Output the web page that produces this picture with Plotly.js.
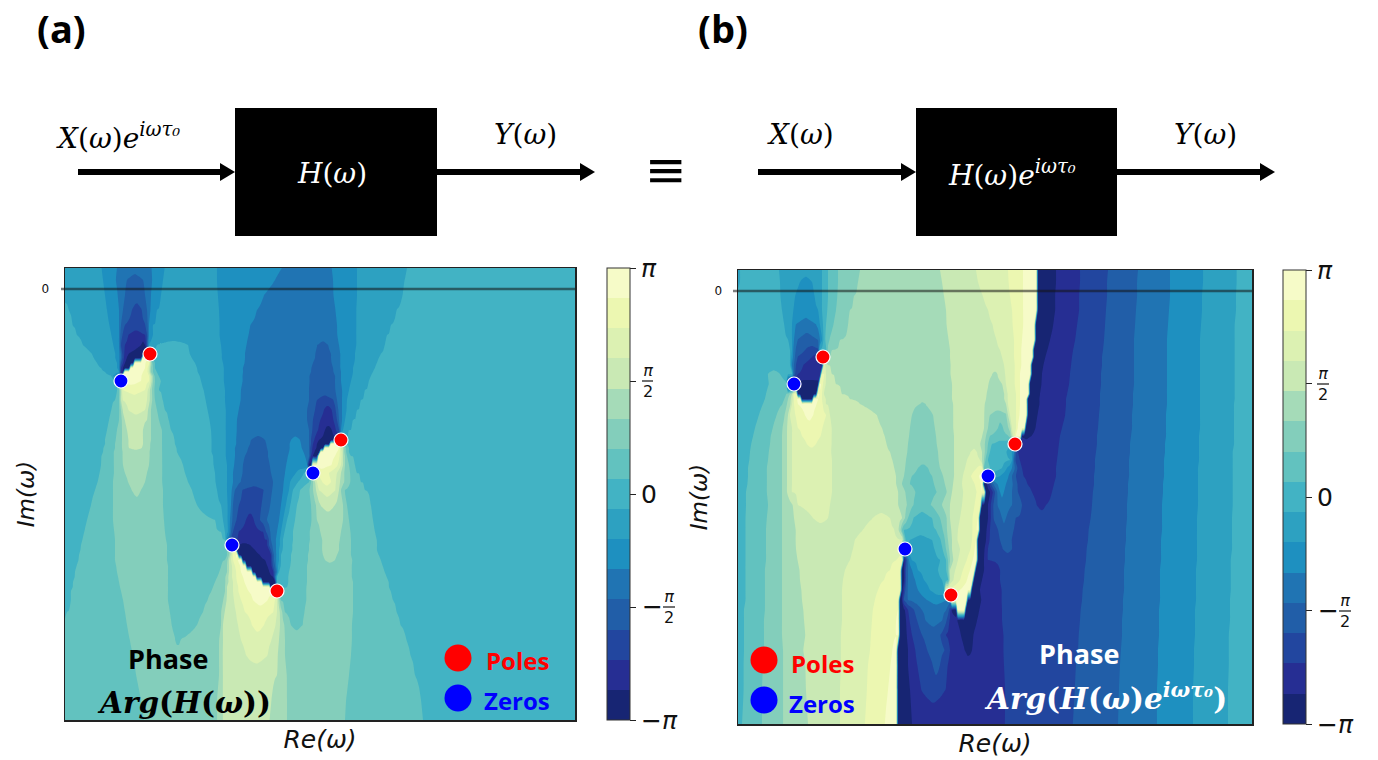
<!DOCTYPE html>
<html><head><meta charset="utf-8">
<script src="https://cdn.plot.ly/plotly-3.0.1.min.js"></script>
<style>html,body{margin:0;padding:0;background:#fff}#c{width:1378px;height:760px}</style>
</head><body><div id="c"></div>
<script>
// Band index of the phase (-7 = -pi band ... 7 = +pi band).
// Each row: band, x where the next band starts, next band, ...
const rowYA=[268,280,295,310,325,335,345,354,358,363,368,372,376,381,390,400,410,420,430,440,444,448,452,456,465,473,482,490,505,520,532,540,545,550,555,560,566,572,577,582,587,591,600,612,625,640,655,675,700,720];
const bandsA=[
[-1,102,-2,117,-3,152,-2,164,-1,217,-2,282,-3,332,-2,357,-1,407,0],
[-1,103,-2,116,-3,127,-4,143,-3,152,-2,163,-1,217,-2,275,-3,333,-2,357,-1,404,0],
[-1,105,-2,118,-3,125,-4,145,-3,151,-2,161,-1,218,-2,264,-3,334,-2,357,-1,402,0],
[0,68,-1,107,-2,119,-3,123,-4,132,-5,142,-4,147,-3,150,-2,157,-1,219,-2,257,-3,336,-2,356,-1,396,0],
[0,72,-1,110,-2,119,-3,121,-4,125,-5,146,-4,148,-3,149,-2,153,-1,220,-2,250,-3,337,-2,356,-1,391,0],
[0,77,-1,112,-2,119,-3,120,-4,122,-5,128,-6,145,-5,147,-4,149,-2,152,-1,220,-2,248,-3,338,-2,356,-1,387,0],
[0,83,-1,114,-2,119,-3,120,-4,121,-5,125,-6,141,-7,145,-6,147,-4,149,-1,157,0,188,-1,221,-2,246,-3,318,-4,328,-3,339,-2,356,-1,384,0],
[0,92,-1,116,-2,120,-3,121,-4,122,-5,124,-6,128,-7,149,0,190,-1,222,-2,245,-3,316,-4,331,-3,340,-2,355,-1,380,0],
[0,94,-1,116,-2,120,-3,121,-4,122,-5,124,-6,126,-7,142,7,148,6,150,1,152,0,192,-1,222,-2,245,-3,315,-4,331,-3,340,-2,355,-1,378,0],
[0,97,-1,117,-2,120,-4,121,-5,123,-6,125,-7,135,7,146,6,150,3,152,1,154,0,195,-1,223,-2,244,-3,313,-4,332,-3,340,-2,354,-1,376,0],
[0,101,-1,118,-2,120,-4,121,-6,123,-7,130,7,145,6,149,4,151,2,153,1,155,0,197,-1,224,-2,243,-3,312,-4,333,-3,340,-2,353,-1,374,0],
[0,105,-1,119,-2,120,-4,121,-6,123,-7,125,7,143,6,149,4,151,2,153,1,156,0,198,-1,224,-2,243,-3,311,-4,334,-3,341,-2,353,-1,372,0],
[0,113,-2,120,-7,122,7,142,6,149,5,150,4,152,3,153,2,154,1,158,0,200,-1,224,-2,242,-3,310,-4,335,-3,341,-2,352,-1,370,0],
[0,118,7,141,6,149,5,150,4,152,3,153,2,155,1,160,0,201,-1,224,-2,242,-3,310,-4,335,-3,341,-2,351,-1,368,0],
[0,118,1,119,2,120,3,121,4,122,5,123,6,145,5,148,4,150,3,152,2,154,1,159,0,204,-1,225,-2,241,-3,309,-4,336,-3,342,-2,349,-1,365,0],
[0,115,1,119,2,120,3,121,4,122,5,147,4,150,3,152,2,155,1,162,0,206,-1,225,-2,240,-3,309,-4,317,-5,334,-4,337,-3,342,-2,347,-1,360,0],
[0,112,1,120,2,121,3,122,4,128,5,145,4,148,3,151,2,157,1,165,0,208,-1,226,-2,238,-3,308,-4,315,-5,324,-6,332,-5,336,-4,338,-3,342,-2,346,-1,357,0],
[0,109,1,119,2,122,3,124,4,147,3,151,2,159,1,168,0,210,-1,226,-2,237,-3,308,-4,313,-5,320,-6,334,-5,337,-4,339,-3,342,-2,345,-1,353,0],
[0,107,1,117,2,122,3,127,4,143,3,151,2,162,1,171,0,211,-1,226,-2,236,-3,309,-4,312,-5,318,-6,325,-7,332,-6,336,-5,339,-4,340,-3,341,-2,343,-1,349,0],
[0,105,1,116,2,122,3,128,4,143,3,151,2,162,1,174,0,212,-1,226,-2,236,-3,251,-4,265,-3,291,-2,300,-3,309,-4,311,-5,314,-6,319,-7,340,0],
[0,105,1,115,2,122,3,128,4,143,3,150,2,162,1,175,0,212,-1,226,-2,236,-3,250,-4,266,-3,290,-2,301,-3,309,-4,311,-5,313,-6,317,-7,331,7,339,4,342,3,344,1,346,0],
[0,104,1,115,2,122,3,129,4,142,3,150,2,162,1,176,0,212,-1,226,-2,235,-3,248,-4,267,-3,290,-2,302,-3,309,-4,310,-5,312,-6,316,-7,325,7,339,6,341,4,343,3,344,2,346,1,348,0],
[0,103,1,114,2,122,3,150,2,162,1,177,0,212,-1,226,-2,235,-3,247,-4,268,-3,289,-2,304,-3,309,-4,310,-5,312,-6,314,-7,321,7,337,6,340,5,342,4,343,3,344,2,346,1,349,0],
[0,102,1,114,2,122,3,150,2,162,1,179,0,213,-1,226,-2,235,-3,245,-4,268,-3,288,-2,305,-3,310,-5,311,-6,313,-7,318,7,335,6,340,5,342,4,343,3,345,2,347,1,351,0],
[0,101,1,114,2,123,3,149,2,162,1,183,0,214,-1,227,-2,234,-3,243,-4,270,-3,286,-2,309,-7,313,7,332,6,338,5,341,4,343,3,345,2,349,1,354,0],
[0,100,1,114,2,125,3,147,2,162,1,185,0,215,-1,227,-2,233,-3,242,-4,271,-3,285,-2,296,-1,304,0,313,6,329,5,337,4,341,3,344,2,350,1,357,0],
[0,98,1,113,2,128,3,145,2,162,1,188,0,216,-1,227,-2,233,-3,240,-4,273,-3,284,-2,290,-1,298,0,309,1,311,2,313,3,315,4,317,5,322,6,331,5,336,4,340,3,344,2,350,1,361,0],
[0,95,1,113,2,132,3,141,2,163,1,192,0,217,-1,227,-2,232,-3,235,-4,242,-5,264,-4,272,-3,283,-2,289,-1,293,0,300,1,310,2,313,3,316,4,319,5,336,4,339,3,341,2,345,1,365,0],
[0,91,1,113,2,163,1,197,0,221,-1,228,-2,231,-3,233,-4,239,-5,262,-4,270,-3,281,-2,286,-1,290,0,297,1,311,2,316,3,320,4,335,3,343,2,347,1,370,0],
[0,87,1,113,2,164,1,215,0,223,-1,228,-2,230,-3,232,-4,236,-5,246,-6,254,-5,260,-4,267,-3,279,-2,283,-1,287,0,295,1,312,2,317,3,343,2,349,1,373,0],
[0,84,1,114,2,165,1,221,0,225,-1,228,-2,230,-3,231,-4,233,-5,238,-6,263,-5,266,-4,270,-3,277,-2,281,-1,284,0,293,1,310,2,320,3,341,2,350,1,375,0],
[0,82,1,115,2,166,1,227,-3,230,-5,237,-6,267,-5,269,-4,271,-3,276,-2,280,-1,283,0,293,1,310,2,322,3,340,2,351,1,376,0],
[0,81,1,115,2,167,1,229,-6,238,-7,250,-6,269,-4,272,-3,276,-2,280,-1,283,0,292,1,309,2,322,3,339,2,351,1,377,0],
[0,80,1,115,2,167,1,228,2,230,3,231,4,233,5,234,7,236,-7,255,-6,270,-5,271,-4,273,-3,276,-2,279,-1,282,0,292,1,309,2,322,3,339,2,351,1,377,0],
[0,79,1,115,2,167,1,227,2,229,3,230,4,232,5,233,6,236,7,238,-7,260,-6,271,-5,272,-4,274,-3,276,-2,279,-1,281,0,291,1,308,2,323,3,337,2,351,1,378,0],
[0,78,1,115,2,167,1,225,2,228,3,229,4,231,5,233,6,238,7,242,-7,265,-6,272,-4,274,-3,276,-2,279,-1,281,0,291,1,308,2,325,3,335,2,352,1,380,0],
[0,76,1,116,2,168,1,222,2,227,3,229,4,232,5,235,6,240,7,247,-7,268,-6,273,-4,275,-3,276,-2,278,-1,280,0,290,1,307,2,352,1,382,0],
[0,75,1,117,2,168,1,220,2,227,3,229,4,232,5,236,6,241,7,252,-7,270,-6,274,-4,276,-3,277,-2,278,-1,279,0,289,1,307,2,352,1,384,0],
[0,74,1,118,2,168,1,218,2,226,3,228,4,232,5,236,6,243,7,257,-7,273,-6,275,-3,277,0,288,1,307,2,352,1,386,0],
[0,73,1,119,2,168,1,215,2,226,3,228,4,233,5,237,6,244,7,262,-7,276,0,288,1,307,2,353,1,388,0],
[0,72,1,120,2,168,1,213,2,225,3,227,4,233,5,238,6,246,7,270,-7,277,0,287,1,306,2,353,1,389,0],
[0,71,1,121,2,168,1,212,2,225,3,227,4,233,5,238,6,248,7,279,1,306,2,353,1,390,0],
[0,70,1,123,2,168,1,208,2,224,3,226,4,234,5,241,6,253,7,268,6,275,5,277,4,278,3,280,1,306,2,353,1,393,0],
[0,67,1,125,2,170,1,203,2,222,3,224,4,236,5,245,6,274,5,277,4,280,3,282,2,285,1,304,2,353,1,396,0],
[1,127,2,172,1,197,2,221,3,223,4,238,5,252,6,264,5,276,4,280,3,284,2,291,1,302,2,352,1,400,0],
[1,130,2,176,1,180,2,220,3,223,4,241,5,272,4,279,3,285,2,352,1,406,0],
[1,133,2,219,3,222,4,246,5,268,4,278,3,285,2,351,1,410,0],
[1,136,2,219,3,222,4,277,3,286,2,349,1,415,0],
[1,141,2,218,3,222,4,272,3,287,2,346,1,421,0],
[1,144,2,218,3,222,4,270,3,287,2,345,1,423,0]
];
const rowYB=[270,282,296,310,325,340,350,357,365,374,384,394,399,404,415,428,436,444,452,460,468,476,484,492,505,518,530,540,549,560,570,580,590,600,610,620,635,650,665,690,724];
const bandsB=[
[-1,740,0,779,-1,822,0,828,1,838,2,860,3,940,4,976,5,1008,6,1023,7,1037,-7,1056,-6,1080,-5,1108,-4,1138,-3,1170,-2,1203,-1,1237,0],
[-1,739,0,780,-1,800,-2,812,-1,822,0,828,1,838,2,858,3,942,4,978,5,1009,6,1023,7,1037,-7,1056,-6,1080,-5,1107,-4,1137,-3,1170,-2,1203,-1,1237,0],
[0,781,-1,795,-2,815,-1,822,0,828,1,837,2,854,3,944,4,983,5,1010,6,1023,7,1037,-7,1055,-6,1079,-5,1107,-4,1137,-3,1170,-2,1202,-1,1236,0],
[0,782,-1,793,-2,818,-1,822,0,827,1,836,2,850,3,946,4,988,5,1012,6,1023,7,1037,-7,1055,-6,1079,-5,1106,-4,1136,-3,1169,-2,1202,-1,1236,0],
[0,785,-1,792,-2,795,-3,817,-2,820,-1,823,0,826,1,833,2,848,3,947,4,993,5,1013,6,1023,7,1036,-7,1053,-6,1077,-5,1105,-4,1135,-3,1168,-2,1201,-1,1235,0],
[0,789,-1,792,-2,794,-3,797,-4,818,-3,820,-2,822,-1,823,0,825,1,829,2,840,3,949,4,997,5,1014,6,1022,7,1035,-7,1050,-6,1075,-5,1104,-4,1134,-3,1167,-2,1200,-1,1235,0],
[0,790,-1,792,-2,793,-3,795,-4,805,-5,820,0,827,2,832,3,950,4,1000,5,1014,6,1021,7,1034,-7,1047,-6,1073,-5,1103,-4,1134,-3,1167,-2,1200,-1,1235,0],
[0,791,-2,793,-3,795,-4,797,-5,812,-6,823,3,950,4,1002,5,1014,6,1021,7,1033,-7,1045,-6,1072,-5,1102,-4,1134,-3,1167,-2,1200,-1,1235,0],
[0,792,-3,794,-4,796,-5,803,-6,821,-7,823,5,825,4,828,3,951,4,1004,5,1015,6,1021,7,1032,-7,1043,-6,1071,-5,1102,-4,1134,-3,1167,-2,1200,-1,1235,0],
[0,768,1,780,0,793,-4,795,-5,798,-6,820,-7,822,6,824,5,826,4,831,3,951,4,993,3,997,4,1005,5,1015,6,1020,7,1031,-7,1042,-6,1070,-5,1101,-4,1134,-3,1167,-2,1200,-1,1235,0],
[0,769,1,788,-7,819,7,821,6,823,5,825,4,836,3,952,4,989,3,1002,4,1006,5,1015,6,1020,7,1030,-7,1041,-6,1069,-5,1101,-4,1134,-3,1167,-2,1200,-1,1235,0],
[0,766,1,787,2,790,3,792,4,793,5,794,6,796,7,798,-7,817,7,819,6,822,5,824,4,842,3,952,4,987,3,1005,4,1007,5,1016,6,1020,7,1029,-7,1040,-6,1067,-5,1100,-4,1133,-3,1167,-2,1200,-1,1235,0],
[0,765,1,785,2,788,3,791,4,793,5,794,6,797,7,802,-7,813,7,818,6,822,5,825,4,850,3,952,4,986,3,1005,4,1007,5,1016,6,1020,7,1028,-7,1039,-6,1066,-5,1100,-4,1133,-3,1167,-2,1200,-1,1235,0],
[0,763,1,783,2,787,3,791,4,792,5,794,6,798,7,817,6,823,5,826,4,860,3,920,2,925,3,953,4,985,3,1006,4,1008,5,1016,6,1020,7,1028,-7,1039,-6,1066,-5,1100,-4,1133,-3,1167,-2,1200,-1,1234,0],
[0,759,1,777,2,785,3,788,4,790,5,795,6,805,7,813,6,826,5,830,4,877,3,912,2,933,3,953,4,985,3,990,2,1008,4,1010,5,1016,6,1019,7,1027,-7,1037,-6,1065,-5,1099,-4,1132,-3,1166,-2,1200,-1,1234,0],
[0,755,1,773,2,783,3,787,4,792,5,798,6,823,5,831,4,882,3,910,2,935,3,953,4,984,3,988,2,998,1,1003,2,1009,3,1011,4,1012,5,1016,6,1017,7,1025,-7,1035,-6,1062,-5,1098,-4,1132,-3,1166,-2,1200,-1,1234,0],
[0,753,1,771,2,782,3,787,4,792,5,802,6,821,5,831,4,885,3,909,2,936,3,954,4,983,3,986,2,990,1,1009,2,1011,3,1012,4,1013,5,1015,6,1016,7,1021,-7,1031,-6,1060,-5,1097,-4,1131,-3,1166,-2,1199,-1,1234,0],
[0,751,1,770,2,782,3,787,4,792,5,807,6,816,5,831,4,887,3,908,2,937,3,954,4,981,3,985,2,988,1,992,0,1015,-6,1059,-5,1097,-4,1130,-3,1165,-2,1199,-1,1234,0],
[0,750,1,769,2,782,3,787,4,792,5,831,4,890,3,907,2,938,3,954,4,971,5,977,4,982,3,985,2,987,1,990,0,1007,-1,1012,-2,1014,-3,1015,-4,1016,-5,1018,-6,1058,-5,1096,-4,1130,-3,1165,-2,1199,-1,1233,0],
[0,749,1,768,2,782,3,787,4,792,5,832,4,893,3,906,2,939,3,954,4,967,5,980,4,982,3,984,2,985,1,988,0,1010,-1,1012,-2,1013,-3,1014,-4,1015,-5,1019,-6,1057,-5,1095,-4,1129,-3,1164,-2,1199,-1,1233,0],
[0,748,1,767,2,782,3,787,4,792,5,832,4,895,3,905,2,918,1,928,2,940,3,954,4,965,5,977,6,984,1,990,0,1002,-1,1007,-2,1012,-3,1015,-4,1017,-5,1022,-6,1056,-5,1095,-4,1129,-3,1164,-2,1198,-1,1233,0],
[0,748,1,767,2,782,3,787,4,792,5,832,4,896,3,904,2,912,1,932,2,943,3,954,4,963,5,971,6,979,7,985,-1,1000,-2,1009,-3,1012,-4,1016,-5,1023,-6,1056,-5,1094,-4,1129,-3,1164,-2,1198,-1,1233,0],
[0,747,1,767,2,782,3,787,4,792,5,832,4,897,3,902,2,910,1,934,2,945,3,953,4,962,5,975,6,981,7,984,-7,987,-6,989,-5,991,-4,993,-3,997,-2,1006,-3,1013,-4,1017,-5,1027,-6,1054,-5,1094,-4,1128,-3,1163,-2,1198,-1,1233,0],
[0,746,1,767,2,782,3,787,4,792,5,832,4,899,3,905,2,915,1,937,2,947,3,952,4,963,5,977,6,982,7,985,-7,990,-6,993,-5,995,-4,997,-3,1000,-2,1004,-3,1012,-4,1018,-5,1032,-6,1052,-5,1093,-4,1128,-3,1163,-2,1198,-1,1233,0],
[0,746,1,768,2,782,3,793,4,798,5,830,4,899,3,907,2,913,1,931,2,942,3,950,4,962,5,975,6,980,7,981,-7,988,-6,991,-5,993,-4,997,-3,1012,-4,1022,-5,1037,-6,1046,-5,1092,-4,1127,-3,1162,-2,1198,-1,1233,0],
[0,745,1,767,2,782,3,794,4,813,5,828,4,873,5,890,4,902,3,905,2,908,1,913,0,932,1,940,2,947,3,950,4,960,5,973,6,978,7,980,-7,988,-6,991,-5,993,-4,1002,-3,1006,-4,1015,-5,1091,-4,1127,-3,1162,-2,1197,-1,1232,0],
[0,745,1,766,2,782,3,795,4,863,5,895,4,899,3,901,2,902,1,904,0,936,1,943,2,947,3,951,4,958,5,973,6,977,7,979,-7,987,-6,990,-5,998,-4,1013,-5,1089,-4,1126,-3,1162,-2,1197,-1,1232,0],
[0,745,1,766,2,782,3,795,4,855,5,903,2,905,0,910,-1,932,0,941,1,945,2,948,3,952,4,957,5,972,6,976,7,978,-7,986,-6,989,-5,1000,-4,1011,-5,1088,-4,1126,-3,1161,-2,1197,-1,1232,0],
[0,745,1,766,2,782,3,796,4,853,5,902,-1,935,0,943,1,946,2,949,3,952,4,960,5,971,6,975,7,977,-7,985,-6,988,-5,1003,-4,1012,-5,1087,-4,1125,-3,1161,-2,1197,-1,1232,0],
[0,745,1,766,2,782,3,797,4,850,5,897,6,902,7,904,-7,905,-5,907,-3,909,-2,911,-1,940,0,946,1,948,2,950,3,953,4,958,5,967,6,973,7,977,-7,984,-6,987,-5,1086,-4,1125,-3,1161,-2,1197,-1,1231,0],
[0,745,1,765,2,782,3,799,4,845,5,890,6,901,7,902,-7,904,-6,905,-5,906,-4,908,-3,912,-2,918,-1,938,0,947,1,948,2,949,3,950,4,955,5,963,6,970,7,975,-7,984,-6,1000,-5,1085,-4,1124,-3,1160,-2,1196,-1,1231,0],
[0,745,1,765,2,782,3,800,4,843,5,884,6,901,7,902,-7,904,-6,905,-5,906,-4,908,-3,915,-2,924,-1,942,0,949,2,950,4,953,5,960,6,967,7,973,-7,982,-6,1000,-5,1084,-4,1124,-3,1160,-2,1196,-1,1231,0],
[0,745,1,765,2,782,3,801,4,842,5,878,6,900,7,901,-7,903,-6,904,-5,905,-4,907,-3,918,-2,930,-1,945,6,960,7,971,-7,980,-6,1001,-5,1083,-4,1124,-3,1160,-2,1196,-1,1231,0],
[0,745,1,765,2,782,3,802,4,842,5,875,6,899,7,900,-7,902,-6,903,-5,904,-4,908,-3,927,-2,947,-3,951,7,968,-7,981,-6,1001,-5,1082,-4,1123,-3,1160,-2,1196,-1,1230,0],
[0,744,1,765,2,782,3,803,4,842,5,873,6,898,7,900,-7,905,-6,908,-5,914,-4,922,-3,947,-4,949,-5,951,-7,958,7,966,-7,979,-6,1002,-5,1081,-4,1123,-3,1159,-2,1195,-1,1230,0],
[0,744,1,764,2,782,3,804,4,842,5,872,6,897,7,899,-7,906,-6,909,-5,917,-4,925,-3,943,-4,947,-5,949,-6,957,-7,977,-6,1002,-5,1080,-4,1122,-3,1159,-2,1195,-1,1230,0],
[0,744,1,764,2,782,3,805,4,841,5,871,6,897,7,899,-7,907,-6,912,-5,922,-4,941,-5,946,-6,961,-7,973,-6,1003,-5,1079,-4,1122,-3,1159,-2,1195,-1,1229,0],
[0,744,1,764,2,783,3,803,4,841,5,870,6,893,7,898,-7,908,-6,915,-5,927,-4,945,-5,950,-6,965,-7,972,-6,1003,-5,1078,-4,1121,-3,1158,-2,1194,-1,1229,0],
[0,743,1,763,2,783,3,805,4,841,5,868,6,891,7,898,-7,908,-6,917,-5,933,-4,940,-5,947,-6,1004,-5,1076,-4,1120,-3,1158,-2,1194,-1,1229,0],
[0,743,1,762,2,783,3,806,4,840,5,867,6,888,7,898,-7,910,-6,921,-5,945,-6,1005,-5,1075,-4,1119,-3,1157,-2,1193,-1,1228,0],
[0,742,1,762,2,783,3,808,4,840,5,865,6,885,7,898,-7,912,-6,1005,-5,1073,-4,1118,-3,1157,-2,1193,-1,1228,0]
];
const polesA={x:[150,341,277],y:[354,440,591]};
const zerosA={x:[121,313,232],y:[381,473,545]};
const polesB={x:[823,1015,951],y:[357,444,595]};
const zerosB={x:[794,988,905],y:[384,476,549]};
const bandColors=['#172573','#262e93','#22469f','#215ea8','#2074b3','#1e90c0','#2da1c1','#42b3c4','#62c2bf','#83cebb','#a5dbb8','#c9e9b4','#dcf1b2','#ecf7b1','#f6fbc8'];
const cbTickVals=[-7.5,-3.75,0,3.75,7.5];
const cbTickText=['−<i>π</i>',' ','0',' ','<i>π</i>'];

const W=1378,H=760;
const px=x=>x/W, py=y=>1-y/H;
function columns(a,b,step){const c=[];for(let x=a;x<b;x+=step)c.push(x);c.push(b);return c;}
// At a read boundary the field sits exactly on the contour level, so that the
// library's contours pass through the boundaries that were read off the picture.
function edge(l,n){return Math.abs(n-l)===1?(l+n)/2:l+0.49*Math.sign(n-l);}
function rowValues(r,cols){
  const lv=[],bd=[];for(let i=0;i<r.length;i+=2){lv.push(r[i]);if(i+1<r.length)bd.push(r[i+1]);}
  const xa=cols[0],xb=cols[cols.length-1];
  return cols.map(x=>{
    let k=0;while(k<bd.length&&x>=bd[k])k++;
    const l=lv[k],a=k>0?bd[k-1]:xa,b=k<bd.length?bd[k]:xb,m=(a+b)/2;
    const eL=k>0?edge(l,lv[k-1]):l,eR=k<bd.length?edge(l,lv[k+1]):l;
    return x<m?eL+(l-eL)*(x-a)/(m-a||1):l+(eR-l)*(x-m)/(b-m||1);
  });
}
function expand(rows,cols){return rows.map(r=>rowValues(r,cols));}
const colorscale=[];bandColors.forEach((c,i)=>{colorscale.push([i/15,c]);colorscale.push([(i+1)/15,c]);});

function field(rows,rowY,xa,xb,xaxis,yaxis,cbx,cbTop,cbBot){
  const cols=columns(xa,xb,2);
  return {type:'contour',x:cols,y:rowY,z:expand(rows,cols),xaxis,yaxis,colorscale,zmin:-7.5,zmax:7.5,
    contours:{start:-6.5,end:6.5,size:1,coloring:'fill',showlines:false},line:{width:0,smoothing:0.6},hoverinfo:'skip',
    colorbar:{x:px(cbx),xanchor:'left',xpad:0,ypad:0,thickness:23,thicknessmode:'pixels',len:(cbBot-cbTop)/H,lenmode:'fraction',y:py(cbBot),yanchor:'bottom',
      tickmode:'array',tickvals:cbTickVals,ticktext:cbTickText,ticks:'outside',ticklen:6,tickwidth:1,tickcolor:'#222',outlinewidth:1,outlinecolor:'#333',
      tickfont:{family:'DejaVu Sans',size:25,color:'#111'}}};
}
function pts(p,color,xaxis,yaxis){return {type:'scatter',mode:'markers',x:p.x,y:p.y,xaxis,yaxis,hoverinfo:'skip',marker:{size:14,color,line:{color:'#fff',width:1.2}}};}
function key(x,y,color,xaxis,yaxis){return {type:'scatter',mode:'markers',x:[x],y:[y],xaxis,yaxis,hoverinfo:'skip',marker:{size:27,color}};}

const data=[
 field(bandsA,rowYA,65,575,'x','y',606.5,268,720),
 field(bandsB,rowYB,738,1252,'x2','y2',1282.5,270,724),
 pts(polesA,'#ff0000','x','y'),pts(zerosA,'#0000ff','x','y'),
 pts(polesB,'#ff0000','x2','y2'),pts(zerosB,'#0000ff','x2','y2'),
 key(458,658,'#ff0000','x','y'),key(458,698,'#0000ff','x','y'),
 key(764,660,'#ff0000','x2','y2'),key(764,700,'#0000ff','x2','y2')
];

const serif='DejaVu Serif',sans='Open Sans',dj='DejaVu Sans';
function t(x,y,text,size,color,family,extra){return Object.assign({xref:'paper',yref:'paper',x:px(x),y:py(y),text,showarrow:false,xanchor:'center',yanchor:'middle',font:{size,color:color||'#000',family:family||serif}},extra||{});}
const frac=s=>'<i>π</i><br>'+s;
const ann=[
 t(61,28,'<b>(a)</b>',38,'#000',sans),
 t(723,28,'<b>(b)</b>',38,'#000',sans),
 t(118,136,'<i>X</i>(<i>ω</i>)<i>e<sup>iωτ₀</sup></i>',28),
 t(525,134,'<i>Y</i>(<i>ω</i>)',28),
 t(332,174,'<i>H</i>(<i>ω</i>)',28,'#fff'),
 t(800,134,'<i>X</i>(<i>ω</i>)',28),
 t(1205,134,'<i>Y</i>(<i>ω</i>)',28),
 t(1012,173,'<i>H</i>(<i>ω</i>)<i>e<sup>iωτ₀</sup></i>',28,'#fff'),
 t(666,170,'≡',50,'#000','DejaVu Sans'),
 t(168,658,'<b>Phase</b>',27,'#000',sans),
 t(184,702,'<b><i>Arg</i>(<i>H</i>(<i>ω</i>))</b>',29.5),
 t(517,660,'<b>Poles</b>',24,'#ff0000',sans),
 t(517,700,'<b>Zeros</b>',24,'#0000ff',sans),
 t(1079,653,'<b>Phase</b>',27,'#fff',sans),
 t(1105,697,'<b><i>Arg</i>(<i>H</i>(<i>ω</i>)<i>e<sup>iωτ₀</sup></i>)</b>',29.5,'#fff'),
 t(822,663,'<b>Poles</b>',24,'#ff0000',sans),
 t(822,703,'<b>Zeros</b>',24,'#0000ff',sans),
 // colourbar fractions
 t(647.5,381,frac('2'),16,'#111',dj),
 t(669,607,frac('2'),16,'#111',dj),t(652,606,'−',25,'#111',dj),
 t(1323,384,frac('2'),16,'#111',dj),
 t(1345,611,frac('2'),16,'#111',dj),t(1328,610,'−',25,'#111',dj)
];
function line(x0,y0,x1,y1,color,width){return {type:'line',xref:'paper',yref:'paper',x0:px(x0),y0:py(y0),x1:px(x1),y1:py(y1),line:{color,width}};}
function head(x,y,len){return {type:'path',xref:'paper',yref:'paper',path:`M ${px(x-len)} ${py(y-9)} L ${px(x)} ${py(y)} L ${px(x-len)} ${py(y+9)} Z`,fillcolor:'#000',line:{width:0}};}
function box(x0,x1){return {type:'rect',xref:'paper',yref:'paper',x0:px(x0),x1:px(x1),y0:py(108),y1:py(236),fillcolor:'#000',line:{width:0}};}
const shapes=[
 box(235,437),box(916,1117),
 line(78,172,222,172,'#000',6),head(235,172,15),
 line(437,172,580,172,'#000',6),head(595,172,15),
 line(758,172,902,172,'#000',6),head(916,172,15),
 line(1117,172,1260,172,'#000',6),head(1275,172,15),
 line(61,289,575,289,'rgba(20,20,20,0.55)',2.5),
 line(733,291,1252,291,'rgba(20,20,20,0.55)',2.5),
 line(642,381,653,381,'#111',1.2),line(663,607,675,607,'#111',1.2),
 line(1317,384,1329,384,'#111',1.2),line(1339,611,1351,611,'#111',1.2)
];
function axisX(dom,range,anchor){return {domain:dom,range,anchor,showgrid:false,zeroline:false,showticklabels:false,ticks:'',showline:true,mirror:true,linecolor:'#222',linewidth:1.5,
  title:{text:'<i>Re(ω)</i>',font:{family:dj,size:25,color:'#111'},standoff:10}};}
function axisY(dom,range,anchor,zero){return {domain:dom,range,anchor,showgrid:false,zeroline:false,tickmode:'array',tickvals:[zero],ticktext:['0'],ticks:'outside',ticklen:12,tickcolor:'rgba(0,0,0,0)',tickfont:{family:dj,size:12,color:'#111'},showline:true,mirror:true,linecolor:'#222',linewidth:1.5,
  title:{text:'<i>Im(ω)</i>',font:{family:dj,size:23,color:'#111'},standoff:0}};}
const layout={width:W,height:H,margin:{l:0,r:0,t:0,b:0},paper_bgcolor:'#fff',plot_bgcolor:'#fff',showlegend:false,
 xaxis:axisX([px(65),px(575)],[65,575],'y'),
 yaxis:axisY([py(720),py(268)],[720,268],'x',289),
 xaxis2:axisX([px(738),px(1252)],[738,1252],'y2'),
 yaxis2:axisY([py(724),py(270)],[724,270],'x2',291),
 annotations:ann,shapes};
Plotly.newPlot('c',data,layout,{displayModeBar:false,staticPlot:true});
</script></body></html>
